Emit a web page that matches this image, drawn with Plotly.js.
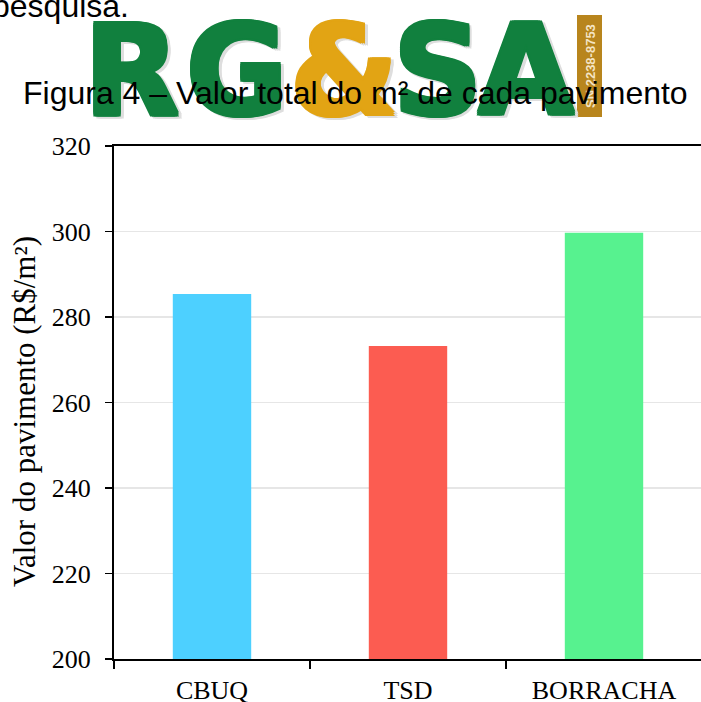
<!DOCTYPE html>
<html>
<head>
<meta charset="utf-8">
<script src="https://cdn.plot.ly/plotly-3.0.1.min.js"></script>
<style>
  html, body { margin: 0; padding: 0; background: #ffffff; overflow: hidden; }
  #chart { width: 702px; height: 702px; }
</style>
</head>
<body>
<div id="chart"></div>
<script>
// Paving cost per square metre for each pavement type
const categories = ['CBUQ', 'TSD', 'BORRACHA'];
const values = [285.4, 273.2, 299.7];
const barColors = ['#4dd0ff', '#fc5c51', '#57f28f'];
const yTicks = [200, 220, 240, 260, 280, 300, 320];
const yRange = [200, 320];

const titleText = 'Figura 4 – Valor total do m² de cada pavimento';
const yTitleText = 'Valor do pavimento (R$/m²)';
const leadText = 'pesquisa.';

// Journal masthead letters drawn behind the figure caption
const logoLetters = ['R', 'G', '&', 'S', 'A'];
const logoColors = ['#11803e', '#11803e', '#e2a414', '#11803e', '#11803e'];
const issnText = 'SN 2238-8753';

const W = 702, H = 702;
const M = { l: 114, r: 0, t: 146, b: 43 };
const PW = W - M.l - M.r, PH = H - M.t - M.b;
// pixel position -> paper fraction
const px = x => (x - M.l) / PW;
const py = y => (H - M.b - y) / PH;

const SERIF = 'Liberation Serif, Times New Roman, serif';
const SANS = 'Liberation Sans, Arial, sans-serif';

// thicken the heavy masthead strokes with a tight text-shadow ring
const ring = c => ['2px 0 0', '-2px 0 0', '0 2px 0', '0 -2px 0', '2px 2px 0', '-2px -2px 0', '2px -2px 0', '-2px 2px 0']
  .map(s => s + ' ' + c).join(', ');

const letterX = [131, 237, 344, 437, 526];
const annotations = [];

logoLetters.forEach((ch, i) => {
  annotations.push({
    xref: 'paper', yref: 'paper', x: px(letterX[i] + 3), y: py(73), xanchor: 'center', yanchor: 'middle',
    text: ch, showarrow: false,
    font: { family: 'DejaVu Sans', size: 124, weight: 'bold', color: '#dedede', shadow: ring('#dedede') }
  });
  annotations.push({
    xref: 'paper', yref: 'paper', x: px(letterX[i]), y: py(71), xanchor: 'center', yanchor: 'middle',
    text: ch, showarrow: false,
    font: { family: 'DejaVu Sans', size: 124, weight: 'bold', color: logoColors[i], shadow: ring(logoColors[i]) }
  });
});

annotations.push({
  xref: 'paper', yref: 'paper', x: px(590), y: py(66), xanchor: 'center', yanchor: 'middle',
  text: issnText, showarrow: false, textangle: -90,
  font: { family: 'Liberation Sans Narrow, Liberation Sans, sans-serif', size: 13, weight: 'bold', color: '#f4e4c4' }
});

annotations.push({
  xref: 'paper', yref: 'paper', x: px(-10), y: py(6), xanchor: 'left', yanchor: 'middle',
  text: leadText, showarrow: false,
  font: { family: SANS, size: 32, color: '#000000' }
});

// value axis title
annotations.push({
  xref: 'paper', yref: 'paper', x: px(24), y: py(412), xanchor: 'center', yanchor: 'middle',
  text: yTitleText, showarrow: false, textangle: -90,
  font: { family: SERIF, size: 31, color: '#000000' }
});

// figure caption, drawn last so it sits over the masthead
annotations.push({
  xref: 'paper', yref: 'paper', x: px(355), y: py(93), xanchor: 'center', yanchor: 'middle',
  text: titleText, showarrow: false,
  font: { family: SANS, size: 32, color: '#000000' }
});

const trace = {
  type: 'bar',
  x: categories,
  y: values,
  marker: { color: barColors, line: { width: 0 } },
  hoverinfo: 'x+y'
};

const layout = {
  width: W, height: H,
  margin: M,
  paper_bgcolor: '#ffffff',
  plot_bgcolor: '#ffffff',
  showlegend: false,
  bargap: 0.6,
  font: { family: SERIF, color: '#000000' },
  shapes: [{
    type: 'rect', xref: 'paper', yref: 'paper', layer: 'below',
    x0: px(577), x1: px(602), y0: py(117), y1: py(15),
    fillcolor: '#b8851d', line: { width: 0 }
  }],
  annotations: annotations,
  xaxis: {
    type: 'category',
    range: [-0.5, 2.5],
    showline: true, linecolor: '#000000', linewidth: 2, mirror: true,
    ticks: 'outside', tickson: 'boundaries', ticklen: 8, tickwidth: 1.5, tickcolor: '#000000',
    ticklabelstandoff: 7,
    tickfont: { family: SERIF, size: 26, color: '#000000' },
    showgrid: false, zeroline: false, fixedrange: true
  },
  yaxis: {
    range: yRange,
    tickvals: yTicks,
    ticktext: yTicks.map(String),
    showline: true, linecolor: '#000000', linewidth: 2,
    ticks: 'outside', ticklen: 7, tickwidth: 1.5, tickcolor: '#000000',
    ticklabelstandoff: 9,
    tickfont: { family: SERIF, size: 26, color: '#000000' },
    showgrid: true, gridcolor: '#e6e6e6', gridwidth: 1.5,
    zeroline: false, fixedrange: true
  }
};

Plotly.newPlot('chart', [trace], layout, { displayModeBar: false, staticPlot: true });
</script>
</body>
</html>
